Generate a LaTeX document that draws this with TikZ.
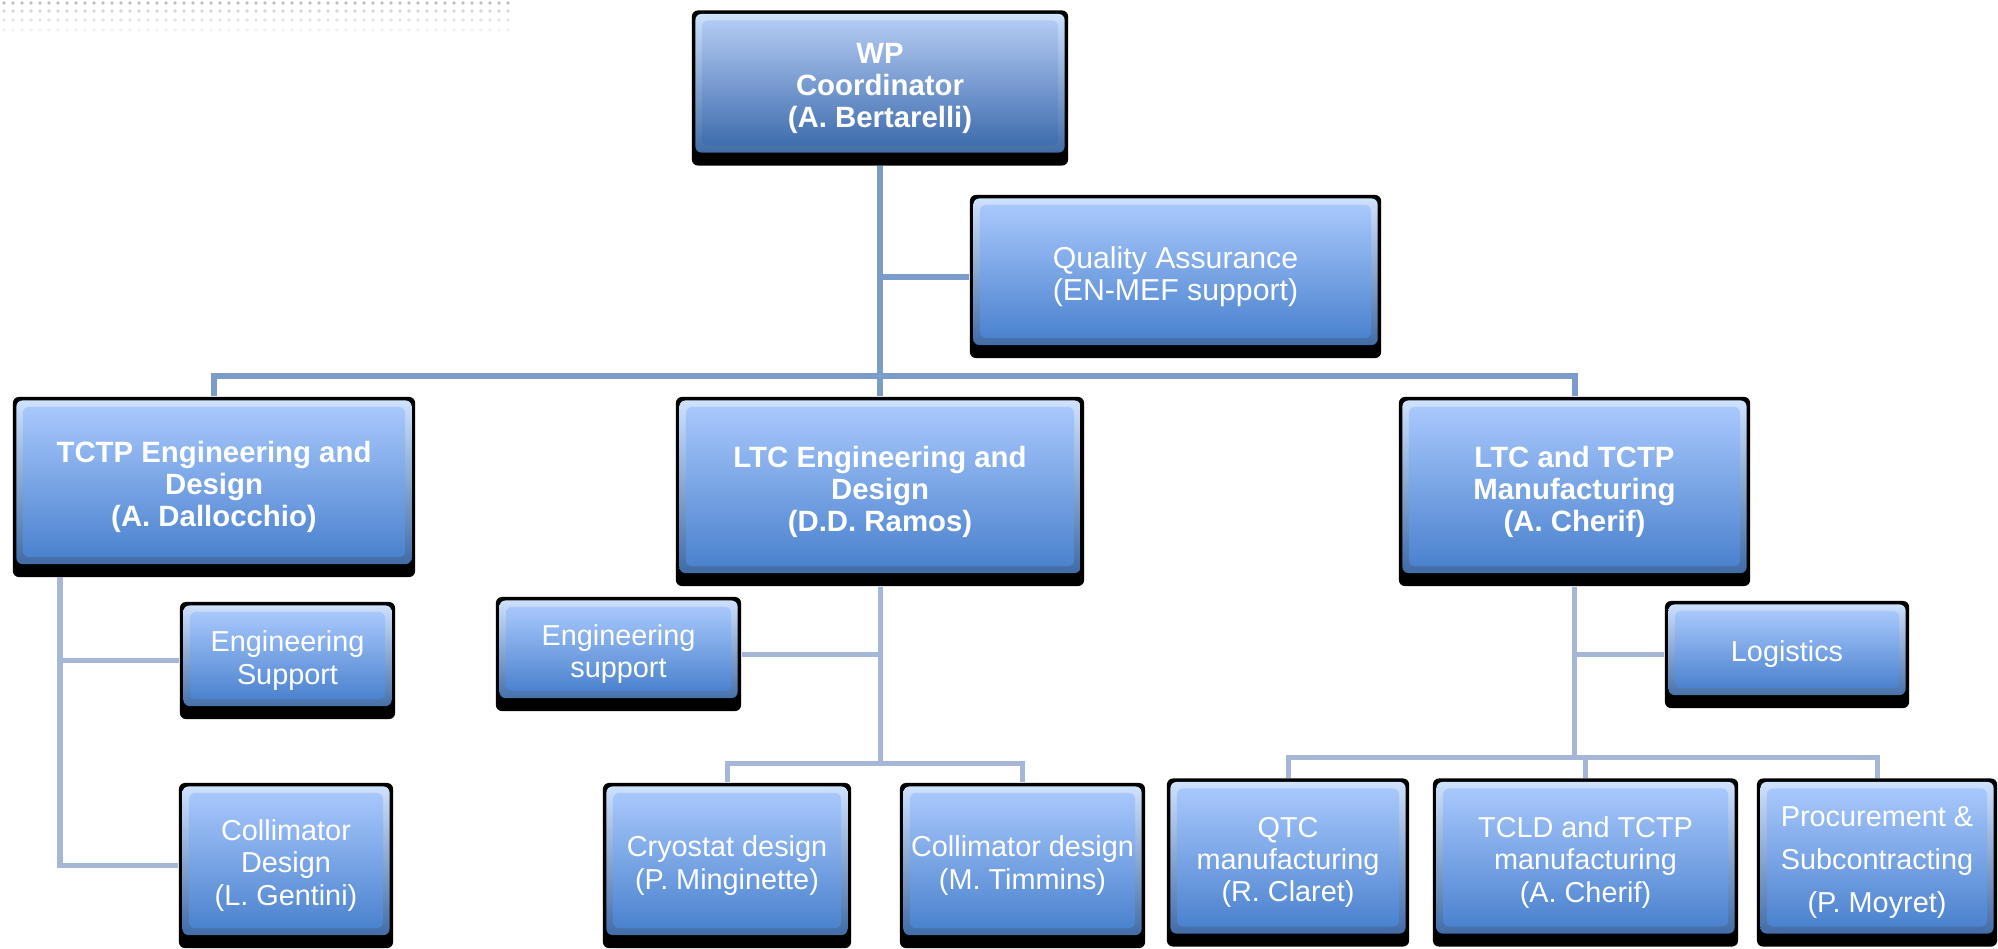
\documentclass[tikz,border=0pt]{standalone}
\usepackage{fontspec}
\setmainfont{Liberation Sans}
\usepackage{tikz}
\usetikzlibrary{positioning,calc}

\definecolor{bevtop}{HTML}{D2E4FF}
\definecolor{bevbot}{HTML}{35629F}
\definecolor{facetop}{HTML}{A8C8FC}
\definecolor{facebot}{HTML}{4B82CE}
\definecolor{wptop}{HTML}{B3CAF3}
\definecolor{wpbot}{HTML}{3F6DAE}
\definecolor{mainline}{HTML}{7B9BCB}
\definecolor{subline}{HTML}{A5B6D7}

\begin{document}
\begin{tikzpicture}[
  x=0.01cm, y=-0.01cm,
  face/.style 2 args={path picture={
    \shade[top color=bevtop, bottom color=bevbot]
      ([shift={(0.035cm,-0.035cm)}]path picture bounding box.north west) rectangle
      ([shift={(-0.035cm,0.13cm)}]path picture bounding box.south east);
    \shade[top color=#1, bottom color=#2]
      ([shift={(0.1cm,-0.1cm)}]path picture bounding box.north west) rectangle
      ([shift={(-0.1cm,0.2cm)}]path picture bounding box.south east);
  }},
  unit/.style={fill=black, rounded corners=0.06cm, text=white, align=center,
    inner sep=0pt, font=\fontsize{8.2}{9.2}\selectfont, face={facetop}{facebot}},
  head/.style={unit, font=\fontsize{8.35}{9.1}\selectfont\bfseries},
  mainlink/.style={draw=mainline, line width=0.06cm},
  sublink/.style={draw=subline, line width=0.05cm},
]
\useasboundingbox (0,0) rectangle (1998,948);

% faint dotted band, top left
\foreach \r/\op in {3/0.25,11/0.16,20/0.10,30/0.05}
  \foreach \x in {4,13,...,510}
    \fill[black, opacity=\op] (\x,\r) circle (0.018cm);

% top level
\node[head, face={wptop}{wpbot}, minimum width=3.76cm, minimum height=1.55cm]
  (wp) at (880,88) {WP\\Coordinator\\(A. Bertarelli)};
\node[unit, font=\fontsize{8.6}{9}\selectfont, minimum width=4.11cm, minimum height=1.63cm]
  (qa) at (1175.5,276.5) {Quality Assurance\\(EN-MEF support)};

% second level
\node[head, minimum width=4.02cm, minimum height=1.80cm]
  (tctp) at (214,487) {TCTP Engineering and\\Design\\(A. Dallocchio)};
\node[head, minimum width=4.08cm, minimum height=1.89cm]
  (ltc) at (880,491.5) {LTC Engineering and\\Design\\(D.D. Ramos)};
\node[head, minimum width=3.51cm, minimum height=1.89cm]
  (manuf) at (1574.5,491.5) {LTC and TCTP\\Manufacturing\\(A. Cherif)};

% third level
\node[unit, minimum width=2.15cm, minimum height=1.17cm]
  (esl) at (287.5,660.5) {Engineering\\Support};
\node[unit, minimum width=2.14cm, minimum height=1.65cm]
  (cdl) at (286,865.5) {Collimator\\Design\\(L. Gentini)};
\node[unit, minimum width=2.45cm, minimum height=1.14cm]
  (esm) at (618.5,654) {Engineering\\support};
\node[unit, minimum width=2.48cm, minimum height=1.65cm]
  (cryo) at (727,865.5) {Cryostat design\\(P. Minginette)};
\node[unit, minimum width=2.45cm, minimum height=1.65cm]
  (collt) at (1022.5,865.5) {Collimator design\\(M. Timmins)};
\node[unit, minimum width=2.44cm, minimum height=1.07cm]
  (logi) at (1787,654.5) {Logistics};
\node[unit, minimum width=2.42cm, minimum height=1.68cm]
  (qtc) at (1288,862.5) {QTC\\manufacturing\\(R. Claret)};
\node[unit, minimum width=3.05cm, minimum height=1.68cm]
  (tcld) at (1585.5,862.5) {TCLD and TCTP\\manufacturing\\(A. Cherif)};
\node[unit, minimum width=2.40cm, minimum height=1.68cm]
  (proc) at (1877,862.5) {Procurement \&\\[3pt]Subcontracting\\[3pt](P. Moyret)};

% links from the coordinator
\draw[mainlink] (wp.south) -- (ltc.north);
\draw[mainlink] (wp.south |- qa.west) -- (qa.west);
\draw[mainlink] (tctp.north) -- ++(0,-20) -| (manuf.north);

% TCTP branch
\coordinate (tstem) at (60,577);
\draw[sublink] (tstem) |- (esl.west);
\draw[sublink] (tstem) |- (cdl.west);

% LTC branch
\draw[sublink] (ltc.south) -- ++(0,178);
\draw[sublink] (esm.east) -- (esm.east -| ltc.south);
\draw[sublink] (cryo.north) -- ++(0,-19) -| (collt.north);

% manufacturing branch
\draw[sublink] (manuf.south) -- ++(0,173);
\draw[sublink] (logi.west) -- (logi.west -| manuf.south);
\draw[sublink] (qtc.north) -- ++(0,-20) -| (proc.north);
\draw[sublink] (tcld.north) -- ++(0,-20);

\end{tikzpicture}
\end{document}
